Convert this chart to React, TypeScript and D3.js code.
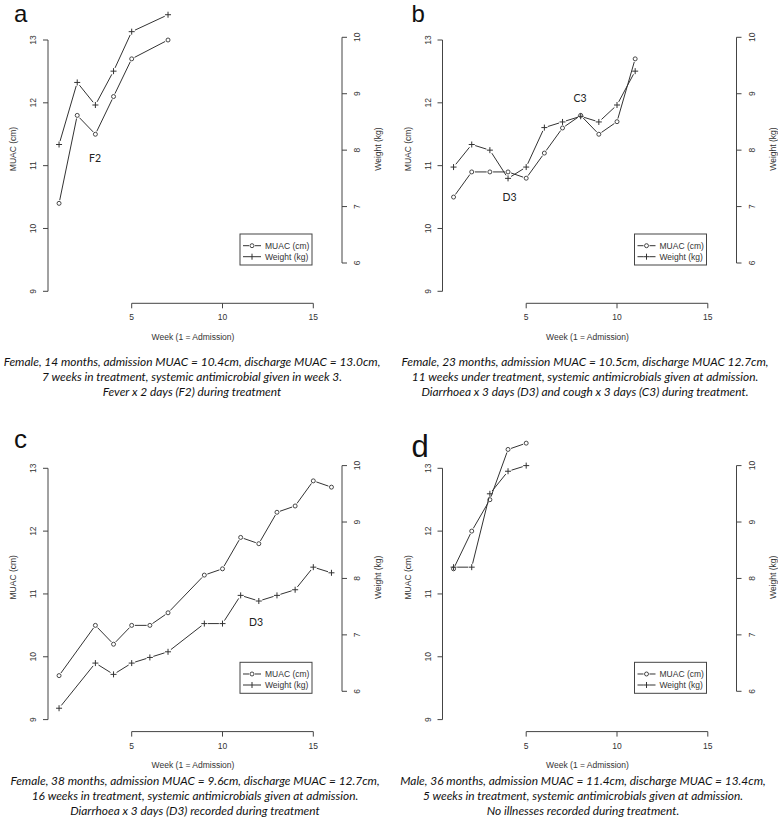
import React from "react";
import * as d3 from "d3";

// ---------- data ----------
const weeksA = [1, 2, 3, 4, 5, 7];
const muacA = [10.4, 11.8, 11.5, 12.1, 12.7, 13.0];
const weightA = [8.1, 9.2, 8.8, 9.4, 10.1, 10.4];

const weeksB = [1, 2, 3, 4, 5, 6, 7, 8, 9, 10, 11];
const muacB = [10.5, 10.9, 10.9, 10.9, 10.8, 11.2, 11.6, 11.8, 11.5, 11.7, 12.7];
const weightB = [7.7, 8.1, 8.0, 7.5, 7.7, 8.4, 8.5, 8.6, 8.5, 8.8, 9.4];

const weeksC = [1, 3, 4, 5, 6, 7, 9, 10, 11, 12, 13, 14, 15, 16];
const muacC = [9.7, 10.5, 10.2, 10.5, 10.5, 10.7, 11.3, 11.4, 11.9, 11.8, 12.3, 12.4, 12.8, 12.7];
const weightC = [5.7, 6.5, 6.3, 6.5, 6.6, 6.7, 7.2, 7.2, 7.7, 7.6, 7.7, 7.8, 8.2, 8.1];

const weeksD = [1, 2, 3, 4, 5];
const muacD = [11.4, 12.0, 12.5, 13.3, 13.4];
const weightD = [8.2, 8.2, 9.5, 9.9, 10.0];

// annotations: [label, week, muac-position]
const notesA: [string, number, number][] = [["F2", 2.98, 11.12]];
const notesB: [string, number, number][] = [["D3", 4.08, 10.5], ["C3", 7.96, 12.07]];
const notesC: [string, number, number][] = [["D3", 11.85, 10.55]];
const notesD: [string, number, number][] = [];

const captionA = [
  "Female, 14 months, admission MUAC = 10.4cm, discharge MUAC = 13.0cm,",
  "7 weeks in treatment, systemic antimicrobial given in week 3.",
  "Fever x 2 days (F2) during treatment",
];
const captionB = [
  "Female, 23 months, admission MUAC = 10.5cm, discharge MUAC 12.7cm,",
  "11 weeks under treatment, systemic antimicrobials given at admission.",
  "Diarrhoea x 3 days (D3) and cough x 3 days (C3) during treatment.",
];
const captionC = [
  "Female, 38 months, admission MUAC = 9.6cm, discharge MUAC = 12.7cm,",
  "16 weeks in treatment, systemic antimicrobials given at admission.",
  "Diarrhoea x 3 days (D3) recorded during treatment",
];
const captionD = [
  "Male, 36 months, admission MUAC = 11.4cm, discharge MUAC = 13.4cm,",
  "5 weeks in treatment, systemic antimicrobials given at admission.",
  "No illnesses recorded during treatment.",
];

const xTicks = [5, 10, 15];
const muacTicks = [9, 10, 11, 12, 13];
const weightTicks = [6, 7, 8, 9, 10];
const legendLabels = ["MUAC (cm)", "Weight (kg)"];

// ---------- styles ----------
const AX = "#444";
const LN = "#333";
const SANS = "'Liberation Sans', Arial, Helvetica, sans-serif";
const GILL = "Lato, 'Open Sans', sans-serif";

function gapped(pts: [number, number][], gap: number) {
  const segs: string[] = [];
  for (let i = 0; i < pts.length - 1; i++) {
    const [x0, y0] = pts[i];
    const [x1, y1] = pts[i + 1];
    const dx = x1 - x0, dy = y1 - y0;
    const L = Math.hypot(dx, dy);
    if (L <= 2 * gap) continue;
    const ux = dx / L, uy = dy / L;
    segs.push(`M${x0 + ux * gap},${y0 + uy * gap}L${x1 - ux * gap},${y1 - uy * gap}`);
  }
  return segs.join("");
}

function Circle({ x, y }: { x: number; y: number }) {
  return <circle cx={x} cy={y} r={2} fill="none" stroke={LN} strokeWidth={0.9} />;
}
function Plus({ x, y }: { x: number; y: number }) {
  return (
    <path d={`M${x - 3},${y}H${x + 3}M${x},${y - 3}V${y + 3}`} stroke={LN} strokeWidth={1} />
  );
}

type PanelProps = {
  ox: number;
  oy: number;
  letter: string;
  letterSize: number;
  letterX: number;
  letterY: number;
  weeks: number[];
  muac: number[];
  weight: number[];
  notes: [string, number, number][];
};

function Panel(p: PanelProps) {
  const x = d3.scaleLinear().domain([5, 15]).range([131.7, 313.3]);
  const yM = d3.scaleLinear().domain([9, 13]).range([291.3, 40]);
  const yW = d3.scaleLinear().domain([6, 10]).range([263, 37.3]);
  const ptsM: [number, number][] = p.weeks.map((w, i) => [x(w), yM(p.muac[i])]);
  const ptsW: [number, number][] = p.weeks.map((w, i) => [x(w), yW(p.weight[i])]);
  const axL = 48, axR = 342, axB = 303.3;
  return (
    <g transform={`translate(${p.ox},${p.oy})`}>
      <text x={p.letterX} y={p.letterY} fontFamily={SANS} fontSize={p.letterSize} fill="#111">
        {p.letter}
      </text>
      {/* left axis */}
      <line x1={axL} x2={axL} y1={yM(9)} y2={yM(13)} stroke={AX} />
      {muacTicks.map((t) => (
        <g key={"m" + t}>
          <line x1={axL - 5} x2={axL} y1={yM(t)} y2={yM(t)} stroke={AX} />
          <text
            transform={`translate(${axL - 12},${yM(t)}) rotate(-90)`}
            textAnchor="middle"
            fontFamily={SANS}
            fontSize={8.5}
            fill="#333"
          >
            {t}
          </text>
        </g>
      ))}
      <text
        transform={`translate(${16},${149}) rotate(-90)`}
        textAnchor="middle"
        fontFamily={SANS}
        fontSize={8.5}
        fill="#333"
      >
        MUAC (cm)
      </text>
      {/* right axis */}
      <line x1={axR} x2={axR} y1={yW(6)} y2={yW(10)} stroke={AX} />
      {weightTicks.map((t) => (
        <g key={"w" + t}>
          <line x1={axR} x2={axR + 5} y1={yW(t)} y2={yW(t)} stroke={AX} />
          <text
            transform={`translate(${axR + 18},${yW(t)}) rotate(-90)`}
            textAnchor="middle"
            fontFamily={SANS}
            fontSize={8.5}
            fill="#333"
          >
            {t}
          </text>
        </g>
      ))}
      <text
        transform={`translate(${381},${149}) rotate(-90)`}
        textAnchor="middle"
        fontFamily={SANS}
        fontSize={8.5}
        fill="#333"
      >
        Weight (kg)
      </text>
      {/* bottom axis */}
      <line x1={x(5)} x2={x(15)} y1={axB} y2={axB} stroke={AX} />
      {xTicks.map((t) => (
        <g key={"x" + t}>
          <line x1={x(t)} x2={x(t)} y1={axB} y2={axB + 5} stroke={AX} />
          <text x={x(t)} y={axB + 17} textAnchor="middle" fontFamily={SANS} fontSize={8.5} fill="#333">
            {t}
          </text>
        </g>
      ))}
      <text x={193} y={340} textAnchor="middle" fontFamily={SANS} fontSize={8.5} fill="#333">
        Week (1 = Admission)
      </text>
      {/* series */}
      <path d={gapped(ptsM, 3.2)} stroke={LN} fill="none" strokeWidth={1} />
      <path d={gapped(ptsW, 3.6)} stroke={LN} fill="none" strokeWidth={1} />
      {ptsM.map(([a, b], i) => (
        <Circle key={"c" + i} x={a} y={b} />
      ))}
      {ptsW.map(([a, b], i) => (
        <Plus key={"p" + i} x={a} y={b} />
      ))}
      {p.notes.map(([lab, w, v], i) => (
        <text key={"n" + i} x={x(w)} y={yM(v) + 3.5} textAnchor="middle" fontFamily={GILL} fontSize={10.5} fill="#222">
          {lab}
        </text>
      ))}
      {/* legend */}
      <rect x={240} y={234} width={72} height={31} fill="white" stroke={AX} />
      {legendLabels.map((lab, i) => {
        const ly = 245.7 + i * 11;
        return (
          <g key={"l" + i}>
            <path d={`M${243},${ly}H${249}M${255},${ly}H${261}`} stroke={LN} />
            {i === 0 ? <Circle x={252} y={ly} /> : <Plus x={252} y={ly} />}
            <text x={265} y={ly + 3} fontFamily={SANS} fontSize={8.5} fill="#333">
              {lab}
            </text>
          </g>
        );
      })}
    </g>
  );
}

function Caption({ lines, cx, y0 }: { lines: string[]; cx: number; y0: number }) {
  return (
    <g>
      {lines.map((l, i) => (
        <text
          key={i}
          x={cx}
          y={y0 + i * 15}
          textAnchor="middle"
          fontFamily={GILL}
          fontStyle="italic"
          fontSize={11.9}
          fill="#111"
        >
          {l}
        </text>
      ))}
    </g>
  );
}

export default function App() {
  return (
    <svg
      width={778}
      height={830}
      style={{ position: "absolute", left: 0, top: 0, background: "white" }}
    >
      <rect width={778} height={830} fill="white" />
      <Panel ox={0} oy={0} letter="a" letterSize={24} letterX={14} letterY={22}
        weeks={weeksA} muac={muacA} weight={weightA} notes={notesA} />
      <Panel ox={394.5} oy={0} letter="b" letterSize={24} letterX={17} letterY={22}
        weeks={weeksB} muac={muacB} weight={weightB} notes={notesB} />
      <Panel ox={0} oy={428.3} letter="c" letterSize={26} letterX={14} letterY={19.7}
        weeks={weeksC} muac={muacC} weight={weightC} notes={notesC} />
      <Panel ox={394.5} oy={428.3} letter="d" letterSize={31} letterX={17} letterY={28.7}
        weeks={weeksD} muac={muacD} weight={weightD} notes={notesD} />
      <Caption lines={captionA} cx={192} y0={366} />
      <Caption lines={captionB} cx={585} y0={366} />
      <Caption lines={captionC} cx={195} y0={784.5} />
      <Caption lines={captionD} cx={583} y0={784.5} />
    </svg>
  );
}
